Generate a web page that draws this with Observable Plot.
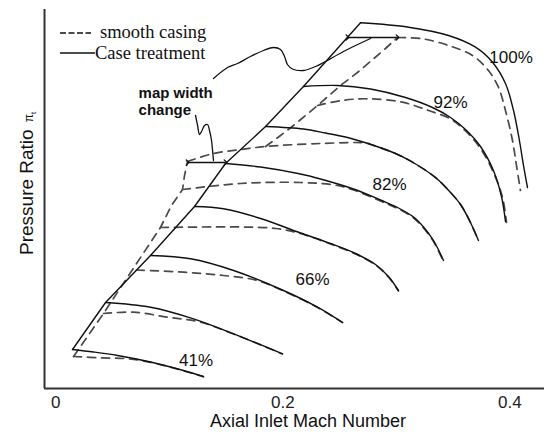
<!DOCTYPE html>
<html><head><meta charset="utf-8">
<script src="https://cdn.jsdelivr.net/npm/d3@7"></script>
<script src="https://cdn.jsdelivr.net/npm/@observablehq/plot@0.6"></script>
<style>
html,body{margin:0;padding:0;background:#fff;}
#chart{width:550px;height:436px;}
</style></head>
<body><div id="chart"></div>
<script>
// Axis ticks
const xTicks = [0, 0.2, 0.4];
const xTickLabels = ["0", "0.2", "0.4"];

// Case treatment (solid) speed lines: [Mach, pressure ratio]
const ct41 = [[0.0147,1.078],[0.0332,1.073],[0.0544,1.066],[0.0834,1.053],[0.1125,1.036],[0.1301,1.024]];
const ct55 = [[0.0438,1.172],[0.0834,1.1626],[0.1213,1.1394],[0.1566,1.1094],[0.1997,1.0694]];
const ct66 = [[0.0834,1.266],[0.1187,1.2594],[0.1566,1.236],[0.2006,1.196],[0.2306,1.1626],[0.2526,1.132]];
const ct74 = [[0.1222,1.364],[0.1478,1.3594],[0.1804,1.340],[0.2156,1.311],[0.2420,1.290],[0.2641,1.270],[0.2817,1.248],[0.2931,1.224],[0.3019,1.196]];
const ct82 = [[0.1495,1.450],[0.1804,1.443],[0.2156,1.429],[0.2332,1.419],[0.2623,1.399],[0.2861,1.377],[0.3011,1.362],[0.3152,1.343],[0.3240,1.323],[0.3328,1.296],[0.3416,1.256]];
const ct87 = [[0.1848,1.524],[0.2182,1.519],[0.2376,1.511],[0.2570,1.502],[0.2790,1.487],[0.2993,1.470],[0.3125,1.455],[0.3345,1.422],[0.3478,1.392],[0.3566,1.368],[0.3645,1.336],[0.3724,1.296]];
const ct92 = [[0.2182,1.604],[0.2482,1.606],[0.2773,1.599],[0.3081,1.582],[0.3319,1.562],[0.3478,1.542],[0.3610,1.518],[0.3742,1.484],[0.3856,1.436],[0.3927,1.384],[0.3962,1.334]];
const ct100 = [[0.2685,1.7314],[0.3108,1.7226],[0.3460,1.706],[0.3698,1.6826],[0.3848,1.6526],[0.3962,1.610],[0.4033,1.556],[0.4085,1.496],[0.4121,1.446],[0.4156,1.402]];

// Smooth casing (dashed) speed lines
const sc41 = [[0.0156,1.064],[0.0394,1.0614],[0.0632,1.0594],[0.0834,1.0524],[0.1125,1.0354],[0.1301,1.0234]];
const sc55 = [[0.0420,1.150],[0.0685,1.1526],[0.0984,1.1426],[0.1275,1.1326],[0.1566,1.109],[0.1997,1.069]];
const sc66 = [[0.0711,1.237],[0.1125,1.2326],[0.1478,1.226],[0.1777,1.216],[0.2006,1.195],[0.2306,1.162],[0.2526,1.132]];
const sc74 = [[0.0922,1.322],[0.1275,1.323],[0.1627,1.323],[0.1936,1.320],[0.2156,1.310],[0.2420,1.289],[0.2641,1.269],[0.2817,1.247],[0.2931,1.223],[0.3019,1.195]];
const sc82 = [[0.1116,1.398],[0.1627,1.410],[0.2156,1.412],[0.2482,1.406],[0.2623,1.397],[0.2861,1.375],[0.3011,1.360],[0.3152,1.341],[0.3240,1.321],[0.3328,1.294],[0.3416,1.254]];
const sc87 = [[0.1160,1.454],[0.1389,1.470],[0.1627,1.478],[0.1848,1.484],[0.2332,1.490],[0.2729,1.491],[0.2790,1.487],[0.2993,1.470],[0.3125,1.455],[0.3345,1.422],[0.3478,1.392],[0.3566,1.368],[0.3645,1.336],[0.3724,1.296]];
const sc92 = [[0.2306,1.566],[0.2517,1.576],[0.2755,1.5794],[0.3055,1.5726],[0.3284,1.556],[0.3478,1.539],[0.3610,1.515],[0.3742,1.480],[0.3856,1.432],[0.3936,1.382],[0.3971,1.332]];
const sc100 = [[0.3011,1.702],[0.3231,1.6994],[0.3460,1.686],[0.3671,1.666],[0.3812,1.636],[0.3900,1.6026],[0.3962,1.556],[0.4024,1.496],[0.4059,1.446],[0.4094,1.396]];

// Surge lines
const surgeCT = [[0.0147,1.078],[0.0438,1.172],[0.0834,1.266],[0.1222,1.364],[0.1495,1.450],[0.1848,1.524],[0.2182,1.604],[0.2685,1.7314]];
const surgeSCLow = [[0.0156,1.064],[0.0420,1.150],[0.0676,1.238],[0.0922,1.322],[0.1019,1.366],[0.1116,1.398],[0.1134,1.426],[0.1160,1.454]];
const surgeSCHigh = [[0.1848,1.484],[0.1980,1.506],[0.2094,1.526],[0.2306,1.566],[0.2508,1.606],[0.2658,1.632],[0.2905,1.680],[0.3011,1.702]];

// Speed labels
const speedLabels = ["41%", "66%", "82%", "92%", "100%"];
const speedLabelM = [0.1235, 0.2262, 0.2940, 0.3478, 0.4011];
const speedLabelPR = [1.056, 1.218, 1.408, 1.5726, 1.6626];

// Annotations
const widthArrows = [
  {x1: 0.2569, x2: 0.3011, y: 1.702},
  {x1: 0.1160, x2: 0.1495, y: 1.452}
];
const leaderTop = [[0.1389,1.620],[0.1513,1.642],[0.1601,1.650],[0.1715,1.664],[0.1830,1.676],[0.1918,1.682],[0.1980,1.678],[0.2015,1.664],[0.2041,1.648],[0.2085,1.639],[0.2182,1.636],[0.2288,1.644],[0.2359,1.652],[0.2552,1.676],[0.2773,1.700]];
const leaderMap = [[0.1231,1.546],[0.1249,1.526],[0.1266,1.508],[0.1284,1.514],[0.1310,1.526],[0.1337,1.528],[0.1354,1.516],[0.1372,1.496],[0.1381,1.476],[0.1389,1.456]];
const annotText = "map width\nchange";
const annotPos = {M: 0.0729, PR: 1.605};

const curves = [
  ["41%", ct41, sc41], ["55%", ct55, sc55], ["66%", ct66, sc66], ["74%", ct74, sc74],
  ["82%", ct82, sc82], ["87%", ct87, sc87], ["92%", ct92, sc92], ["100%", ct100, sc100]
];
const treated = [], smooth = [];
for (const [id, ct, sc] of curves) {
  ct.forEach(([M, PR]) => treated.push({id, M, PR}));
  sc.forEach(([M, PR]) => smooth.push({id, M, PR}));
}
const surgeDashed = [];
surgeSCLow.forEach(([M, PR]) => surgeDashed.push({id: "low", M, PR}));
surgeSCHigh.forEach(([M, PR]) => surgeDashed.push({id: "high", M, PR}));
const surgeSolid = surgeCT.map(([M, PR]) => ({M, PR}));
const leaders = [];
leaderTop.forEach(([M, PR]) => leaders.push({id: "top", M, PR}));
leaderMap.forEach(([M, PR]) => leaders.push({id: "map", M, PR}));
const labels = speedLabels.map((t, i) => ({t, M: speedLabelM[i], PR: speedLabelPR[i]}));

const xDomain = [-0.01, 0.4306];
const yDomain = [1.0, 1.758];

const chart = Plot.plot({
  width: 550, height: 436,
  marginLeft: 44, marginRight: 6, marginTop: 9, marginBottom: 48,
  style: {fontFamily: "'Liberation Sans', Arial, sans-serif", background: "#fff", color: "#111", overflow: "visible"},
  x: {domain: xDomain},
  y: {domain: yDomain},
  marks: [
    Plot.axisX({ticks: xTicks, tickFormat: (d, i) => xTickLabels[i], tickSize: 0, tickPadding: 7, fontSize: 17, label: null, fill: "#222"}),
    Plot.axisY({ticks: [], label: null}),
    Plot.line(smooth, {x: "M", y: "PR", z: "id", curve: "catmull-rom", stroke: "#4a4a4a", strokeWidth: 1.7, strokeDasharray: "8,6"}),
    Plot.line(surgeDashed, {x: "M", y: "PR", z: "id", curve: "linear", stroke: "#4a4a4a", strokeWidth: 1.7, strokeDasharray: "8,6"}),
    Plot.line(treated, {x: "M", y: "PR", z: "id", curve: "catmull-rom", stroke: "#111", strokeWidth: 1.4}),
    Plot.line(surgeSolid, {x: "M", y: "PR", curve: "linear", stroke: "#111", strokeWidth: 1.4}),
    Plot.line(leaders, {x: "M", y: "PR", z: "id", curve: "catmull-rom", stroke: "#111", strokeWidth: 1.3}),
    Plot.link(widthArrows, {x1: "x1", x2: "x2", y1: "y", y2: "y", stroke: "#111", strokeWidth: 1.3, markerStart: "arrow", markerEnd: "arrow"}),
    Plot.text(labels, {x: "M", y: "PR", text: "t", fontSize: 17, fill: "#111"}),
    Plot.text([annotPos], {x: "M", y: "PR", text: () => annotText, textAnchor: "start", lineAnchor: "top", fontSize: 15, fontWeight: "bold", lineHeight: 1.13, fill: "#111"}),
    Plot.ruleX([xDomain[0]], {stroke: "#333", strokeWidth: 2}),
    Plot.ruleY([yDomain[0]], {stroke: "#333", strokeWidth: 2})
  ]
});

const svg = d3.select(chart);
// x-axis title
svg.append("text").attr("x", 210).attr("y", 427).attr("text-anchor", "start")
  .attr("font-size", 18).attr("fill", "#111").attr("font-family", "'Liberation Sans', Arial, sans-serif")
  .text("Axial Inlet Mach Number");
// y-axis title
const yt = svg.append("text").attr("transform", "translate(33,255) rotate(-90)").attr("text-anchor", "start")
  .attr("font-size", 19).attr("fill", "#111").attr("font-family", "'Liberation Sans', Arial, sans-serif");
yt.append("tspan").text("Pressure Ratio");
yt.append("tspan").attr("dx", 7).attr("font-size", 12).text("π");
yt.append("tspan").attr("dy", 3).attr("font-size", 8).text("t");
// legend
const lg = svg.append("g").attr("text-anchor", "start").attr("font-family", "'Liberation Serif', 'Times New Roman', serif").attr("font-size", 18.5).attr("fill", "#111");
lg.append("line").attr("x1", 60).attr("x2", 91).attr("y1", 33).attr("y2", 33).attr("stroke", "#111").attr("stroke-width", 1.3).attr("stroke-dasharray", "6,2.5");
lg.append("text").attr("x", 100).attr("y", 38).text("smooth casing");
lg.append("line").attr("x1", 60).attr("x2", 95).attr("y1", 53).attr("y2", 53).attr("stroke", "#111").attr("stroke-width", 1.3);
lg.append("text").attr("x", 95).attr("y", 59).text("Case treatment");

document.getElementById("chart").appendChild(chart);
</script>
</body></html>
